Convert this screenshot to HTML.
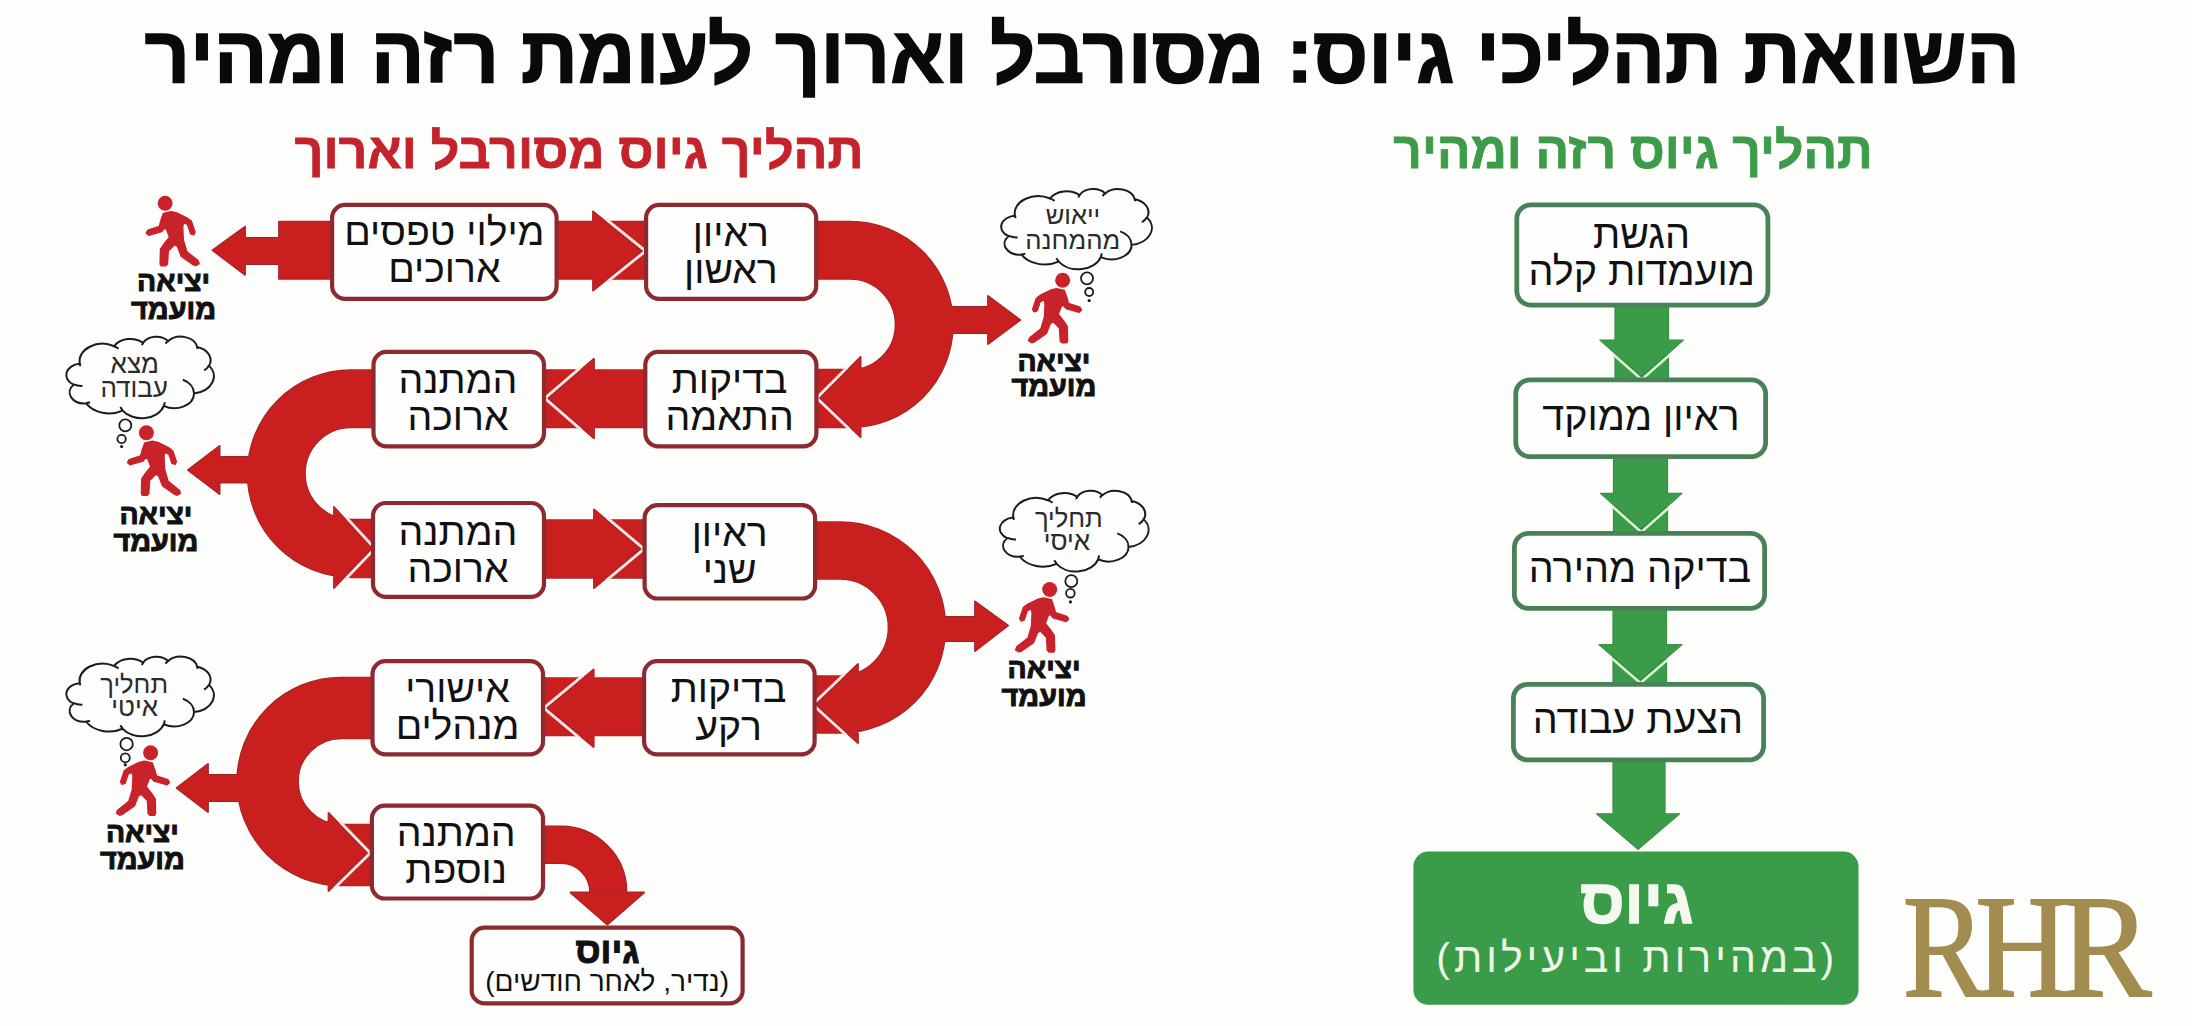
<!DOCTYPE html><html><head><meta charset="utf-8"><style>html,body{margin:0;padding:0;background:#fdfdfb;}body{width:2192px;height:1026px;overflow:hidden;}svg{display:block;font-family:"Liberation Sans",sans-serif;}</style></head><body>
<svg width="2192" height="1026" viewBox="0 0 2192 1026" direction="rtl">
<rect width="2192" height="1026" fill="#fdfdfb"/>
<text x="1082.2" y="82.3" font-size="80" font-weight="bold" fill="#0a0a0a" text-anchor="middle" textLength="1875.5" lengthAdjust="spacingAndGlyphs" stroke="#0a0a0a" stroke-width="1.6">השוואת תהליכי גיוס: מסורבל וארוך לעומת רזה ומהיר</text>
<text x="579" y="168" font-size="50" font-weight="bold" fill="#c4232b" text-anchor="middle" textLength="569" lengthAdjust="spacingAndGlyphs" stroke="#c4232b" stroke-width="0.8">תהליך גיוס מסורבל וארוך</text>
<text x="1633.1" y="167.8" font-size="50.5" font-weight="bold" fill="#3d9b4a" text-anchor="middle" textLength="479.5" lengthAdjust="spacingAndGlyphs" stroke="#3d9b4a" stroke-width="0.8">תהליך גיוס רזה ומהיר</text>
<path d="M279 221.6H331V278.9H279Z M279 238 L245 238 L245 226.7 L212.6 250.3 L245 274.7 L245 264 L279 264 Z M556 221.6H646V278.9H556Z M816 221.6H850V278.9H816Z M850 221.6 A102.9 102.9 0 0 1 850 427.4 L850 370.1 A45.6 45.6 0 0 0 850 278.9 Z M945 307 L988 307 L988 296 L1020.3 320 L988 344 L988 333 L945 333 Z M815 369.6H850V427.4H815Z M542 370.1H647V427.4H542Z M351 370.1H375V427.4H351Z M351 370.1 A103.4 103.4 0 0 0 351 576.9 L351 519.6 A46.1 46.1 0 0 1 351 427.4 Z M258 457 L219.6 457 L219.6 446 L188 470 L219.6 494 L219.6 482.6 L258 482.6 Z M351 519.6H375V577.4H351Z M542 520.1H646V577.9H542Z M813 522.1H840V578.9H813Z M840 522.1 A105.4 105.4 0 0 1 840 732.9 L840 676.1 A48.6 48.6 0 0 0 840 578.9 Z M935 617 L975 617 L975 601.5 L1008 625.6 L975 651 L975 641 L935 641 Z M813 676.1H840V732.9H813Z M541 678.1H646V735.4H541Z M341 677.6H374V738.4H341Z M341 677.6 A103.9 103.9 0 0 0 341 885.4 L341 824.6 A43.1 43.1 0 0 1 341 738.4 Z M248 775 L208 775 L208 764 L176.7 788 L208 812 L208 801 L248 801 Z M341 824.6H374V885.4H341Z M542 826.5 H561 A65.5 65.5 0 0 1 626.5 892 H590 A29 29 0 0 0 561 863 H542 Z M570.5 892.5 L644.1 892.5 L607.3 924.5 Z M642.3 251 L593 211.4 L593 290.5 Z M819.7 398 L860.6 357 L860.6 437 Z M548 398.2 L594 358.8 L594 438.2 Z M372 548.5 L334 507 L334 588 Z M640.8 549 L594 509.5 L594 588 Z M815.6 704.5 L858 664 L858 743 Z M547 708 L593.7 669.4 L593.7 747 Z M367.4 853 L328.5 813 L328.5 891 Z" fill="#9e2329" stroke="#9e2329" stroke-width="1.8" stroke-linejoin="round"/>
<path d="M279 221.6H331V278.9H279Z M279 238 L245 238 L245 226.7 L212.6 250.3 L245 274.7 L245 264 L279 264 Z M556 221.6H646V278.9H556Z M816 221.6H850V278.9H816Z M850 221.6 A102.9 102.9 0 0 1 850 427.4 L850 370.1 A45.6 45.6 0 0 0 850 278.9 Z M945 307 L988 307 L988 296 L1020.3 320 L988 344 L988 333 L945 333 Z M815 369.6H850V427.4H815Z M542 370.1H647V427.4H542Z M351 370.1H375V427.4H351Z M351 370.1 A103.4 103.4 0 0 0 351 576.9 L351 519.6 A46.1 46.1 0 0 1 351 427.4 Z M258 457 L219.6 457 L219.6 446 L188 470 L219.6 494 L219.6 482.6 L258 482.6 Z M351 519.6H375V577.4H351Z M542 520.1H646V577.9H542Z M813 522.1H840V578.9H813Z M840 522.1 A105.4 105.4 0 0 1 840 732.9 L840 676.1 A48.6 48.6 0 0 0 840 578.9 Z M935 617 L975 617 L975 601.5 L1008 625.6 L975 651 L975 641 L935 641 Z M813 676.1H840V732.9H813Z M541 678.1H646V735.4H541Z M341 677.6H374V738.4H341Z M341 677.6 A103.9 103.9 0 0 0 341 885.4 L341 824.6 A43.1 43.1 0 0 1 341 738.4 Z M248 775 L208 775 L208 764 L176.7 788 L208 812 L208 801 L248 801 Z M341 824.6H374V885.4H341Z M542 826.5 H561 A65.5 65.5 0 0 1 626.5 892 H590 A29 29 0 0 0 561 863 H542 Z M570.5 892.5 L644.1 892.5 L607.3 924.5 Z M642.3 251 L593 211.4 L593 290.5 Z M819.7 398 L860.6 357 L860.6 437 Z M548 398.2 L594 358.8 L594 438.2 Z M372 548.5 L334 507 L334 588 Z M640.8 549 L594 509.5 L594 588 Z M815.6 704.5 L858 664 L858 743 Z M547 708 L593.7 669.4 L593.7 747 Z M367.4 853 L328.5 813 L328.5 891 Z" fill="#c9201f"/>
<polyline points="604.95,221 642.3,251 606.73,279.5" fill="none" stroke="#fbe3e1" stroke-width="7" stroke-linejoin="miter"/>
<polygon points="642.3,251 593,211.4 593,290.5" fill="#c9201f"/>
<polyline points="604.95,221 642.3,251 606.73,279.5" fill="none" stroke="#9e2329" stroke-width="1.2" stroke-linejoin="miter"/>
<polyline points="848.63,369 819.7,398 851.16,428" fill="none" stroke="#fbe3e1" stroke-width="7" stroke-linejoin="miter"/>
<polygon points="819.7,398 860.6,357 860.6,437" fill="#c9201f"/>
<polyline points="848.63,369 819.7,398 851.16,428" fill="none" stroke="#9e2329" stroke-width="1.2" stroke-linejoin="miter"/>
<polyline points="581.51,369.5 548,398.2 582.27,428" fill="none" stroke="#fbe3e1" stroke-width="7" stroke-linejoin="miter"/>
<polygon points="548,398.2 594,358.8 594,438.2" fill="#c9201f"/>
<polyline points="581.51,369.5 548,398.2 582.27,428" fill="none" stroke="#9e2329" stroke-width="1.2" stroke-linejoin="miter"/>
<polyline points="344.99,519 372,548.5 343.62,578" fill="none" stroke="#fbe3e1" stroke-width="7" stroke-linejoin="miter"/>
<polygon points="372,548.5 334,507 334,588" fill="#c9201f"/>
<polyline points="344.99,519 372,548.5 343.62,578" fill="none" stroke="#9e2329" stroke-width="1.2" stroke-linejoin="miter"/>
<polyline points="605.85,519.5 640.8,549 605.4,578.5" fill="none" stroke="#fbe3e1" stroke-width="7" stroke-linejoin="miter"/>
<polygon points="640.8,549 594,509.5 594,588" fill="#c9201f"/>
<polyline points="605.85,519.5 640.8,549 605.4,578.5" fill="none" stroke="#9e2329" stroke-width="1.2" stroke-linejoin="miter"/>
<polyline points="845.96,675.5 815.6,704.5 847.54,733.5" fill="none" stroke="#fbe3e1" stroke-width="7" stroke-linejoin="miter"/>
<polygon points="815.6,704.5 858,664 858,743" fill="#c9201f"/>
<polyline points="845.96,675.5 815.6,704.5 847.54,733.5" fill="none" stroke="#9e2329" stroke-width="1.2" stroke-linejoin="miter"/>
<polyline points="583.9,677.5 547,708 580.53,736" fill="none" stroke="#fbe3e1" stroke-width="7" stroke-linejoin="miter"/>
<polygon points="547,708 593.7,669.4 593.7,747" fill="#c9201f"/>
<polyline points="583.9,677.5 547,708 580.53,736" fill="none" stroke="#9e2329" stroke-width="1.2" stroke-linejoin="miter"/>
<polyline points="339.2,824 367.4,853 333.62,886" fill="none" stroke="#fbe3e1" stroke-width="7" stroke-linejoin="miter"/>
<polygon points="367.4,853 328.5,813 328.5,891" fill="#c9201f"/>
<polyline points="339.2,824 367.4,853 333.62,886" fill="none" stroke="#9e2329" stroke-width="1.2" stroke-linejoin="miter"/>
<rect x="332.1" y="204.9" width="224.5" height="94" rx="13" fill="#fefefe" stroke="#8c2a30" stroke-width="4.2"/>
<rect x="646.1" y="204.9" width="170.1" height="94" rx="13" fill="#fefefe" stroke="#8c2a30" stroke-width="4.2"/>
<rect x="373.5" y="351.9" width="170.5" height="94.4" rx="13" fill="#fefefe" stroke="#8c2a30" stroke-width="4.2"/>
<rect x="645.3" y="351.9" width="171.1" height="94.4" rx="13" fill="#fefefe" stroke="#8c2a30" stroke-width="4.2"/>
<rect x="373" y="503" width="171" height="93.9" rx="13" fill="#fefefe" stroke="#8c2a30" stroke-width="4.2"/>
<rect x="644.6" y="505.1" width="170.5" height="93.4" rx="13" fill="#fefefe" stroke="#8c2a30" stroke-width="4.2"/>
<rect x="372.5" y="661.1" width="170.5" height="93.3" rx="13" fill="#fefefe" stroke="#8c2a30" stroke-width="4.2"/>
<rect x="644.1" y="661.1" width="170.5" height="93.3" rx="13" fill="#fefefe" stroke="#8c2a30" stroke-width="4.2"/>
<rect x="371.9" y="805.7" width="171.1" height="92.8" rx="13" fill="#fefefe" stroke="#8c2a30" stroke-width="4.2"/>
<rect x="471.7" y="927.6" width="270.9" height="75.8" rx="13" fill="#fefefe" stroke="#8c2a30" stroke-width="4.2"/>
<text x="444.4" y="245.4" font-size="39.2" font-weight="normal" fill="#111111" text-anchor="middle">מילוי טפסים</text>
<text x="444.4" y="282.4" font-size="39.2" font-weight="normal" fill="#111111" text-anchor="middle">ארוכים</text>
<text x="730.9" y="246" font-size="39.2" font-weight="normal" fill="#111111" text-anchor="middle">ראיון</text>
<text x="730.9" y="282.5" font-size="39.2" font-weight="normal" fill="#111111" text-anchor="middle">ראשון</text>
<text x="458" y="393.2" font-size="39.2" font-weight="normal" fill="#111111" text-anchor="middle">המתנה</text>
<text x="458" y="430.3" font-size="39.2" font-weight="normal" fill="#111111" text-anchor="middle">ארוכה</text>
<text x="729.6" y="393.2" font-size="39.2" font-weight="normal" fill="#111111" text-anchor="middle">בדיקות</text>
<text x="729.6" y="430.2" font-size="39.2" font-weight="normal" fill="#111111" text-anchor="middle">התאמה</text>
<text x="458" y="544.6" font-size="39.2" font-weight="normal" fill="#111111" text-anchor="middle">המתנה</text>
<text x="458" y="581.5" font-size="39.2" font-weight="normal" fill="#111111" text-anchor="middle">ארוכה</text>
<text x="729.7" y="546.2" font-size="39.2" font-weight="normal" fill="#111111" text-anchor="middle">ראיון</text>
<text x="729.7" y="582.5" font-size="39.2" font-weight="normal" fill="#111111" text-anchor="middle">שני</text>
<text x="457.5" y="702" font-size="39.2" font-weight="normal" fill="#111111" text-anchor="middle">אישורי</text>
<text x="457.5" y="738.8" font-size="39.2" font-weight="normal" fill="#111111" text-anchor="middle">מנהלים</text>
<text x="728.6" y="701.8" font-size="39.2" font-weight="normal" fill="#111111" text-anchor="middle">בדיקות</text>
<text x="728.6" y="739.5" font-size="39.2" font-weight="normal" fill="#111111" text-anchor="middle">רקע</text>
<text x="456.2" y="846.2" font-size="39.2" font-weight="normal" fill="#111111" text-anchor="middle">המתנה</text>
<text x="456.2" y="883" font-size="39.2" font-weight="normal" fill="#111111" text-anchor="middle">נוספת</text>
<text x="607.45" y="963.1" font-size="36" font-weight="bold" fill="#111111" text-anchor="middle" stroke="#111" stroke-width="1">גיוס</text>
<text x="607.1" y="991.3" font-size="28" font-weight="normal" fill="#111111" text-anchor="middle">(נדיר, לאחר חודשים)</text>
<text x="173.6" y="291.4" font-size="28.5" font-weight="bold" fill="#111111" text-anchor="middle" textLength="73" lengthAdjust="spacingAndGlyphs" stroke="#111" stroke-width="1">יציאה</text>
<text x="173.6" y="318.5" font-size="28.5" font-weight="bold" fill="#111111" text-anchor="middle" textLength="85" lengthAdjust="spacingAndGlyphs" stroke="#111" stroke-width="1">מועמד</text>
<text x="1053.9" y="370.5" font-size="28.5" font-weight="bold" fill="#111111" text-anchor="middle" textLength="73" lengthAdjust="spacingAndGlyphs" stroke="#111" stroke-width="1">יציאה</text>
<text x="1053.9" y="396" font-size="28.5" font-weight="bold" fill="#111111" text-anchor="middle" textLength="85" lengthAdjust="spacingAndGlyphs" stroke="#111" stroke-width="1">מועמד</text>
<text x="155.9" y="523.6" font-size="28.5" font-weight="bold" fill="#111111" text-anchor="middle" textLength="73" lengthAdjust="spacingAndGlyphs" stroke="#111" stroke-width="1">יציאה</text>
<text x="155.9" y="550.5" font-size="28.5" font-weight="bold" fill="#111111" text-anchor="middle" textLength="85" lengthAdjust="spacingAndGlyphs" stroke="#111" stroke-width="1">מועמד</text>
<text x="1044.1" y="677.7" font-size="28.5" font-weight="bold" fill="#111111" text-anchor="middle" textLength="73" lengthAdjust="spacingAndGlyphs" stroke="#111" stroke-width="1">יציאה</text>
<text x="1044.1" y="705.8" font-size="28.5" font-weight="bold" fill="#111111" text-anchor="middle" textLength="85" lengthAdjust="spacingAndGlyphs" stroke="#111" stroke-width="1">מועמד</text>
<text x="142.4" y="842.4" font-size="28.5" font-weight="bold" fill="#111111" text-anchor="middle" textLength="73" lengthAdjust="spacingAndGlyphs" stroke="#111" stroke-width="1">יציאה</text>
<text x="142.4" y="869.3" font-size="28.5" font-weight="bold" fill="#111111" text-anchor="middle" textLength="85" lengthAdjust="spacingAndGlyphs" stroke="#111" stroke-width="1">מועמד</text>
<defs><g id="per"><g fill="#c8222b" stroke="#c8222b" stroke-linejoin="round">
<circle cx="0" cy="0" r="7.5" stroke="none"/>
<path d="M-1.7 10.1 L6.1 8.4 L11.5 9.6 L21.7 14.6 L26.3 17.9 L30.0 29.0 L28.6 31.6 L25.5 30.6 L22.4 21.2 L18.5 19.5 L17.6 23.4 L18.2 36.6 L21.8 48.6 L33.0 57.4 L34.1 60.4 L31.0 62.4 L28.7 61.8 L16.2 53.2 L12.3 43.2 L9.4 41.5 L3.2 47.8 L2.4 60.8 L0.6 62.6 L-4.0 62.6 L-5.0 60.8 L-4.6 46.0 L-1.5 41.3 L4.4 34.0 L1.4 25.9 L-1.0 25.2 L-3.3 28.3 L-16.5 32.0 L-18.9 29.8 L-17.3 26.9 L-5.8 23.2 L-4.4 17.9 Z" stroke-width="1.4"/>
</g></g></defs>
<use href="#per" transform="translate(165.1 203.25) scale(1 1)"/>
<use href="#per" transform="translate(1062.65 280.3) scale(-1 1)"/>
<use href="#per" transform="translate(146.4 432.8) scale(1 1)"/>
<use href="#per" transform="translate(1049.7 589.5) scale(-1 1)"/>
<use href="#per" transform="translate(150.6 752.8) scale(-1 1)"/>
<path d="M1014.89 215.48 A23.53 17.06 0 0 1 1050.09 198.46 A18.58 13.49 0 0 1 1079.53 195.17 A15.21 11.04 0 0 1 1105.23 193.41 A16.92 12.24 0 0 1 1134.79 199.15 A18.58 13.50 0 0 1 1146.99 217.50 A23.60 17.12 0 0 1 1131.61 244.87 A20.15 14.60 0 0 1 1100.78 257.14 A23.52 17.11 0 0 1 1058.71 261.69 A26.89 19.57 0 0 1 1021.52 254.65 A15.19 10.99 0 0 1 1008.66 236.23 A15.14 11.04 0 0 1 1014.76 215.73 Z" fill="#fdfdfd" stroke="#1c1c1c" stroke-width="2"/>
<path d="M1017.65 237.40 A15.14 11.04 0 0 1 1008.82 235.92 M1025.44 253.59 A15.19 10.99 0 0 1 1021.57 254.30 M1058.71 261.37 A23.52 17.11 0 0 1 1056.38 258.14 M1101.73 253.31 A23.52 17.11 0 0 1 1100.80 256.86 M1120.20 231.41 A20.15 14.60 0 0 1 1131.53 244.66 M1146.92 217.30 A18.58 13.50 0 0 1 1141.87 222.27 M1134.81 198.87 A16.92 12.24 0 0 1 1135.08 201.22 M1102.60 196.14 A16.92 12.24 0 0 1 1105.19 193.15 M1078.43 197.56 A15.21 11.04 0 0 1 1079.69 194.98 M1050.07 198.44 A23.53 17.06 0 0 1 1054.60 200.94 M1015.68 218.11 A23.53 17.06 0 0 1 1014.89 215.48 " fill="none" stroke="#1c1c1c" stroke-width="2"/>
<text x="1073" y="224.2" font-size="25.5" font-weight="normal" fill="#2a2a2a" text-anchor="middle">ייאוש</text>
<text x="1072.7" y="249.1" font-size="25.7" font-weight="normal" fill="#2a2a2a" text-anchor="middle">מהמחנה</text>
<path d="M79.71 363.54 A23.04 17.36 0 0 1 114.19 346.23 A18.20 13.73 0 0 1 143.02 342.88 A14.89 11.23 0 0 1 168.19 341.09 A16.57 12.46 0 0 1 197.14 346.93 A18.20 13.74 0 0 1 209.09 365.60 A23.12 17.42 0 0 1 194.03 393.45 A19.74 14.86 0 0 1 163.83 405.94 A23.04 17.41 0 0 1 122.63 410.57 A26.34 19.91 0 0 1 86.21 403.40 A14.88 11.18 0 0 1 73.61 384.66 A14.83 11.23 0 0 1 79.58 363.80 Z" fill="#fdfdfd" stroke="#1c1c1c" stroke-width="2"/>
<path d="M82.41 385.85 A14.83 11.23 0 0 1 73.77 384.34 M90.04 402.32 A14.88 11.18 0 0 1 86.26 403.04 M122.62 410.24 A23.04 17.41 0 0 1 120.35 406.95 M164.76 402.04 A23.04 17.41 0 0 1 163.85 405.65 M182.85 379.76 A19.74 14.86 0 0 1 193.94 393.24 M209.02 365.40 A18.20 13.74 0 0 1 204.08 370.46 M197.16 346.65 A16.57 12.46 0 0 1 197.42 349.04 M165.62 343.86 A16.57 12.46 0 0 1 168.15 340.82 M141.95 345.32 A14.89 11.23 0 0 1 143.17 342.69 M114.17 346.21 A23.04 17.36 0 0 1 118.60 348.75 M80.48 366.22 A23.04 17.36 0 0 1 79.71 363.54 " fill="none" stroke="#1c1c1c" stroke-width="2"/>
<text x="134.8" y="372.6" font-size="26" font-weight="normal" fill="#2a2a2a" text-anchor="middle">מצא</text>
<text x="134.2" y="397" font-size="26" font-weight="normal" fill="#2a2a2a" text-anchor="middle">עבודה</text>
<path d="M1013.32 517.34 A23.23 17.17 0 0 1 1048.08 500.22 A18.34 13.58 0 0 1 1077.14 496.91 A15.01 11.11 0 0 1 1102.52 495.13 A16.71 12.32 0 0 1 1131.71 500.92 A18.34 13.59 0 0 1 1143.75 519.38 A23.30 17.22 0 0 1 1128.56 546.92 A19.90 14.70 0 0 1 1098.13 559.27 A23.23 17.21 0 0 1 1056.59 563.85 A26.56 19.69 0 0 1 1019.87 556.76 A15.00 11.06 0 0 1 1007.17 538.23 A14.95 11.11 0 0 1 1013.19 517.60 Z" fill="#fdfdfd" stroke="#1c1c1c" stroke-width="2"/>
<path d="M1016.04 539.40 A14.95 11.11 0 0 1 1007.33 537.91 M1023.73 555.69 A15.00 11.06 0 0 1 1019.92 556.41 M1056.58 563.52 A23.23 17.21 0 0 1 1054.28 560.27 M1099.06 555.42 A23.23 17.21 0 0 1 1098.14 558.98 M1117.30 533.38 A19.90 14.70 0 0 1 1128.48 546.71 M1143.68 519.18 A18.34 13.59 0 0 1 1138.70 524.18 M1131.73 500.64 A16.71 12.32 0 0 1 1131.99 503.00 M1099.92 497.88 A16.71 12.32 0 0 1 1102.47 494.87 M1076.06 499.32 A15.01 11.11 0 0 1 1077.30 496.72 M1048.06 500.20 A23.23 17.17 0 0 1 1052.53 502.72 M1014.10 519.99 A23.23 17.17 0 0 1 1013.32 517.34 " fill="none" stroke="#1c1c1c" stroke-width="2"/>
<text x="1068.8" y="526.8" font-size="25.5" font-weight="normal" fill="#2a2a2a" text-anchor="middle">תחליך</text>
<text x="1067" y="550" font-size="26" font-weight="normal" fill="#2a2a2a" text-anchor="middle">איסי</text>
<path d="M79.71 682.88 A23.04 16.93 0 0 1 114.19 665.99 A18.20 13.39 0 0 1 143.02 662.72 A14.89 10.95 0 0 1 168.19 660.97 A16.57 12.15 0 0 1 197.14 666.67 A18.20 13.40 0 0 1 209.09 684.89 A23.12 16.99 0 0 1 194.03 712.05 A19.74 14.50 0 0 1 163.83 724.23 A23.04 16.98 0 0 1 122.63 728.75 A26.34 19.43 0 0 1 86.21 721.76 A14.88 10.90 0 0 1 73.61 703.48 A14.83 10.95 0 0 1 79.58 683.13 Z" fill="#fdfdfd" stroke="#1c1c1c" stroke-width="2"/>
<path d="M82.41 704.63 A14.83 10.95 0 0 1 73.77 703.16 M90.04 720.70 A14.88 10.90 0 0 1 86.26 721.41 M122.62 728.43 A23.04 16.98 0 0 1 120.35 725.22 M164.76 720.43 A23.04 16.98 0 0 1 163.85 723.95 M182.85 698.69 A19.74 14.50 0 0 1 193.94 711.84 M209.02 684.69 A18.20 13.40 0 0 1 204.08 689.62 M197.16 666.40 A16.57 12.15 0 0 1 197.42 668.73 M165.62 663.68 A16.57 12.15 0 0 1 168.15 660.71 M141.95 665.10 A14.89 10.95 0 0 1 143.17 662.54 M114.17 665.97 A23.04 16.93 0 0 1 118.60 668.45 M80.48 685.49 A23.04 16.93 0 0 1 79.71 682.88 " fill="none" stroke="#1c1c1c" stroke-width="2"/>
<text x="134.2" y="692.6" font-size="25.5" font-weight="normal" fill="#2a2a2a" text-anchor="middle">תחליך</text>
<text x="134.7" y="716" font-size="26" font-weight="normal" fill="#2a2a2a" text-anchor="middle">איטי</text>
<circle cx="1087" cy="278.3" r="6" fill="#fdfdfd" stroke="#1c1c1c" stroke-width="1.8"/>
<circle cx="1089.2" cy="292" r="4" fill="#fdfdfd" stroke="#1c1c1c" stroke-width="1.8"/>
<circle cx="1089.2" cy="300.6" r="1.6" fill="#1c1c1c"/>
<circle cx="125.3" cy="425.4" r="6" fill="#fdfdfd" stroke="#1c1c1c" stroke-width="1.8"/>
<circle cx="121.6" cy="439" r="4.2" fill="#fdfdfd" stroke="#1c1c1c" stroke-width="1.8"/>
<circle cx="121.6" cy="446.5" r="1.6" fill="#1c1c1c"/>
<circle cx="1071.3" cy="581.2" r="6" fill="#fdfdfd" stroke="#1c1c1c" stroke-width="1.8"/>
<circle cx="1070.4" cy="593.2" r="4.3" fill="#fdfdfd" stroke="#1c1c1c" stroke-width="1.8"/>
<circle cx="1070.4" cy="601.9" r="1.6" fill="#1c1c1c"/>
<circle cx="126.6" cy="744.1" r="6.2" fill="#fdfdfd" stroke="#1c1c1c" stroke-width="1.8"/>
<circle cx="125.3" cy="757.8" r="4.5" fill="#fdfdfd" stroke="#1c1c1c" stroke-width="1.8"/>
<circle cx="125.3" cy="764.8" r="1.6" fill="#1c1c1c"/>
<path d="M1615 305H1668.5V380H1615Z M1600 340L1683.4 340L1641.7 377Z M1613.5 457H1667.5V533H1613.5Z M1600.6 493.4L1682 493.4L1641.3 529.5Z M1613 609H1666.5V684H1613Z M1599 644.6L1682 644.6L1640.5 680.5Z M1613 760H1665V814.9H1613Z M1596.5 813.9L1679.6 813.9L1638.05 849.3Z" fill="#34803f" stroke="#34803f" stroke-width="1.2" stroke-linejoin="round"/>
<path d="M1615 305H1668.5V380H1615Z M1600 340L1683.4 340L1641.7 377Z M1613.5 457H1667.5V533H1613.5Z M1600.6 493.4L1682 493.4L1641.3 529.5Z M1613 609H1666.5V684H1613Z M1599 644.6L1682 644.6L1640.5 680.5Z M1613 760H1665V814.9H1613Z M1596.5 813.9L1679.6 813.9L1638.05 849.3Z" fill="#3a9c48"/>
<polyline points="1615,353.31 1641.7,377 1668.5,353.22" fill="none" stroke="#d6f3d3" stroke-width="6.5"/>
<polygon points="1600,340 1683.4,340 1641.7,377" fill="#3a9c48"/>
<polyline points="1615,353.31 1641.7,377 1668.5,353.22" fill="none" stroke="#34803f" stroke-width="1.1"/>
<polyline points="1613.5,504.84 1641.3,529.5 1667.5,506.26" fill="none" stroke="#d6f3d3" stroke-width="6.5"/>
<polygon points="1600.6,493.4 1682,493.4 1641.3,529.5" fill="#3a9c48"/>
<polyline points="1613.5,504.84 1641.3,529.5 1667.5,506.26" fill="none" stroke="#34803f" stroke-width="1.1"/>
<polyline points="1613,656.71 1640.5,680.5 1666.5,658.01" fill="none" stroke="#d6f3d3" stroke-width="6.5"/>
<polygon points="1599,644.6 1682,644.6 1640.5,680.5" fill="#3a9c48"/>
<polyline points="1613,656.71 1640.5,680.5 1666.5,658.01" fill="none" stroke="#34803f" stroke-width="1.1"/>
<rect x="1516.8" y="204.9" width="251.1" height="100.2" rx="14" fill="#fefefe" stroke="#4a8258" stroke-width="4.8"/>
<rect x="1515.8" y="379.9" width="249.8" height="76.7" rx="14" fill="#fefefe" stroke="#4a8258" stroke-width="4.8"/>
<rect x="1514.4" y="533.4" width="250.2" height="75" rx="14" fill="#fefefe" stroke="#4a8258" stroke-width="4.8"/>
<rect x="1513.4" y="684.4" width="250.2" height="75.5" rx="14" fill="#fefefe" stroke="#4a8258" stroke-width="4.8"/>
<text x="1641.45" y="247.7" font-size="39.5" font-weight="normal" fill="#111111" text-anchor="middle">הגשת</text>
<text x="1641.75" y="284.7" font-size="39.5" font-weight="normal" fill="#111111" text-anchor="middle">מועמדות קלה</text>
<text x="1641" y="430" font-size="39.5" font-weight="normal" fill="#111111" text-anchor="middle">ראיון ממוקד</text>
<text x="1640" y="582" font-size="39.5" font-weight="normal" fill="#111111" text-anchor="middle">בדיקה מהירה</text>
<text x="1637.9" y="733" font-size="39.5" font-weight="normal" fill="#111111" text-anchor="middle">הצעת עבודה</text>
<rect x="1413.4" y="851.5" width="445.1" height="153.3" rx="15" fill="#3a9c48"/>
<text x="1636.75" y="922.6" font-size="63.5" font-weight="bold" fill="#f4f8ee" text-anchor="middle" stroke="#f4f8ee" stroke-width="1.5">גיוס</text>
<text x="1635.25" y="972" font-size="41" font-weight="normal" fill="#eef7e8" text-anchor="middle" textLength="398" lengthAdjust="spacing">(במהירות וביעילות)</text>
<text transform="translate(1902.63 995.8) scale(0.85 1)" x="0" y="0" font-family="Liberation Serif" font-size="146" fill="#a38c4f" stroke="#a38c4f" stroke-width="1.8" direction="ltr" text-anchor="start">R</text>
<text transform="translate(1975.37 995.8) scale(0.89 1)" x="0" y="0" font-family="Liberation Serif" font-size="146" fill="#a38c4f" stroke="#a38c4f" stroke-width="1.8" direction="ltr" text-anchor="start">H</text>
<text transform="translate(2059.93 995.8) scale(0.94 1)" x="0" y="0" font-family="Liberation Serif" font-size="146" fill="#a38c4f" stroke="#a38c4f" stroke-width="1.8" direction="ltr" text-anchor="start">R</text>
</svg></body></html>
